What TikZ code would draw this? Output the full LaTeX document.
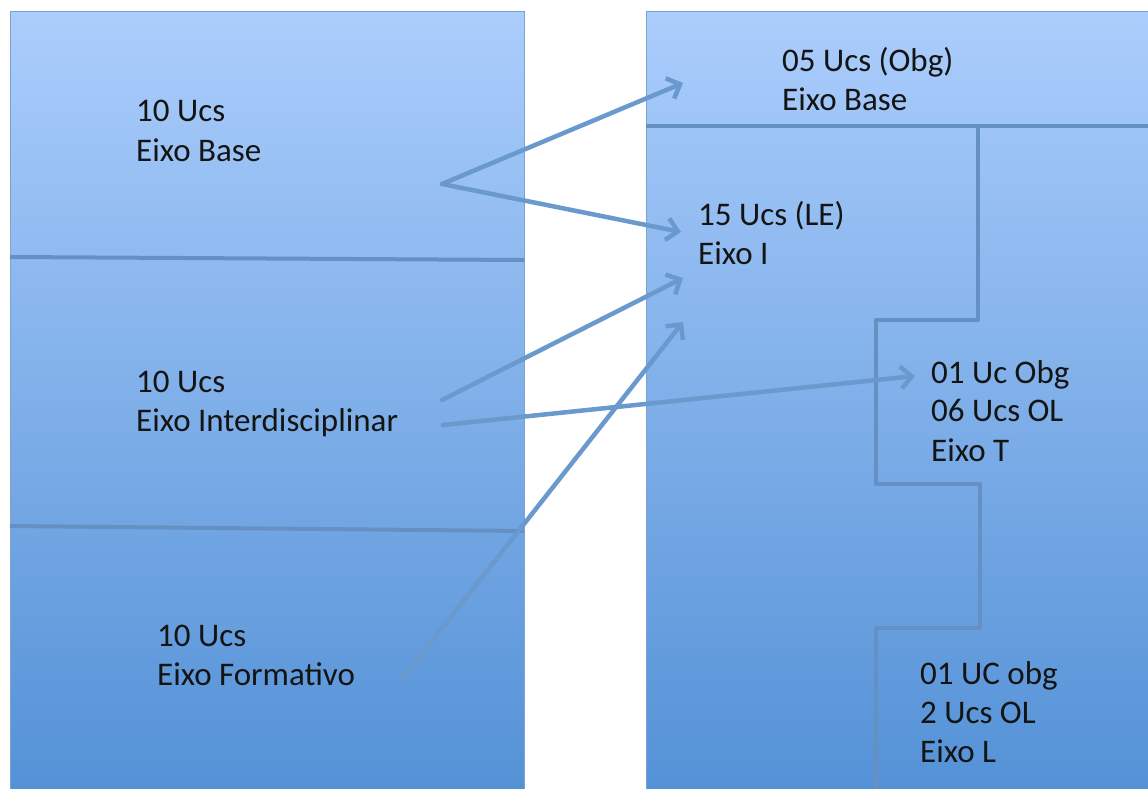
\documentclass[tikz,border=0pt]{standalone}
\usepackage{fontspec}
\setmainfont{Carlito}
\usetikzlibrary{arrows.meta}
\definecolor{gtop}{HTML}{ABCDFC}
\definecolor{gbot}{HTML}{5391D6}
\definecolor{edge}{HTML}{7CA2D2}
\definecolor{divc}{HTML}{6590C4}
\definecolor{arrc}{HTML}{6A99CD}
\definecolor{txt}{HTML}{141414}
\tikzset{
  panel/.style={top color=gtop, bottom color=gbot, draw=edge, line width=1pt},
  divider/.style={draw=divc, line width=4pt},
  conn/.style={draw=arrc, line width=4.5pt, line cap=round, -{Straight Barb[length=11pt,width=22pt]}},
  lbl/.style={anchor=base west, inner sep=0pt, text=txt, font=\fontsize{33}{39}\selectfont}
}
\begin{document}
\begin{tikzpicture}[x=1pt,y=-1pt]
\useasboundingbox (0,0) rectangle (1148,789);
\fill[white] (0,0) rectangle (1148,789);
% panels
\shade[panel] (10,12) rectangle (524,795);
\shade[panel] (646,12) rectangle (1155,795);
% left dividers
\draw[divider] (10,257) -- (524,260);
\draw[divider] (10,526) -- (524,531);
% right dividers
\draw[divider] (646,126) -- (1148,126);
\draw[divider, line join=round] (978,126) -- (978,320) -- (876,320) -- (876,484) -- (980,484) -- (980,628) -- (876,628) -- (876,792);
% labels
\node[lbl] (a1) at (136,122) {10 Ucs};
\node[lbl] (a2) at (136,161) {Eixo Base};
\node[lbl] (b1) at (136,392) {10 Ucs};
\node[lbl] (b2) at (136,431) {Eixo Interdisciplinar};
\node[lbl] (c1) at (157,646) {10 Ucs};
\node[lbl] (c2) at (157,685) {Eixo Formativo};
\node[lbl] (d1) at (782,72) {05 Ucs (Obg)};
\node[lbl] (d2) at (782,111) {Eixo Base};
\node[lbl] (e1) at (698,225) {15 Ucs (LE)};
\node[lbl] (e2) at (698,264) {Eixo I};
\node[lbl] (f1) at (931,383) {01 Uc Obg};
\node[lbl] (f2) at (931,421) {06 Ucs OL};
\node[lbl] (f3) at (931,461) {Eixo T};
\node[lbl] (g1) at (920,684) {01 UC obg};
\node[lbl] (g2) at (920,723) {2 Ucs OL};
\node[lbl] (g3) at (920,762) {Eixo L};
% connector ends
\coordinate (sA) at (442,184);
\coordinate (tA) at (683,83);
\coordinate (tB) at (681,232);
\coordinate (sC) at (442,400);
\coordinate (tC) at (683,278);
\coordinate (sD) at (443,425);
\coordinate (tD) at (915,376);
\coordinate (sE) at (402,679);
\coordinate (tE) at (683,322);
\draw[conn] (sA) -- (tA);
\draw[conn] (sA) -- (tB);
\draw[conn] (sC) -- (tC);
\draw[conn] (sD) -- (tD);
\draw[conn] (sE) -- (tE);
\end{tikzpicture}
\end{document}
